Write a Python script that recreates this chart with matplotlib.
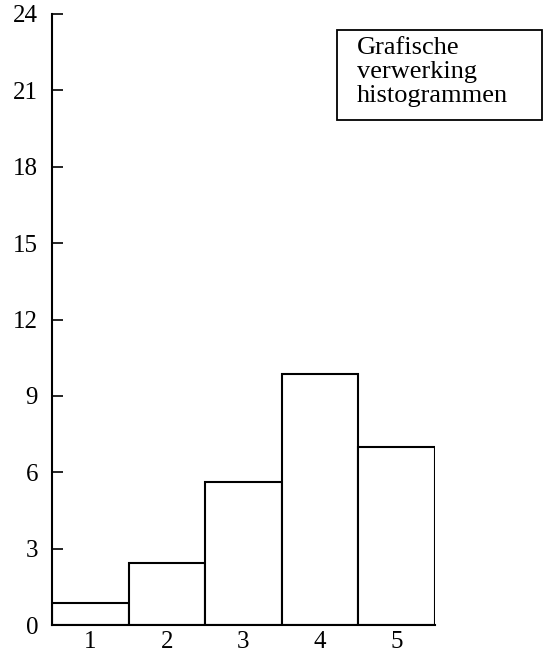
import matplotlib.pyplot as plt
from matplotlib.patches import Rectangle

# --- Data ---
klassen = [1, 2, 3, 4, 5]
frequenties = [0.85, 2.45, 5.6, 9.85, 7.0]
y_ticks = [0, 3, 6, 9, 12, 15, 18, 21, 24]
legend_text = "Grafische\nverwerking\nhistogrammen"

plt.rcParams["font.family"] = ["Liberation Serif", "DejaVu Serif"]

fig = plt.figure(figsize=(5.45, 6.56), dpi=100)
ax = fig.add_axes([52 / 545, 31 / 656, (435 - 52) / 545, (625 - 14) / 656])

ax.bar(klassen, frequenties, width=1.0, color="white", edgecolor="black", linewidth=1.5)

ax.set_xlim(0.5, 5.5)
ax.set_ylim(0, 24)
ax.set_yticks(y_ticks)
ax.set_xticks(klassen)
ax.tick_params(axis="y", direction="in", length=8, width=1.2, pad=10, labelsize=18)
ax.tick_params(axis="x", length=0, pad=4, labelsize=18)

for side in ("top", "right"):
    ax.spines[side].set_visible(False)
for side in ("left", "bottom"):
    ax.spines[side].set_linewidth(1.5)

# --- Legend box ---
x0, x1 = 337 / 545, 542 / 545
y0, y1 = 1 - 120 / 656, 1 - 30 / 656
fig.patches.append(Rectangle((x0, y0), x1 - x0, y1 - y0, transform=fig.transFigure,
                             fill=False, edgecolor="black", linewidth=1.3))
fig.text(357 / 545, 1 - 37 / 656, legend_text, ha="left", va="top", fontsize=19,
         linespacing=1.13)

fig.savefig("out.png", dpi=100)
